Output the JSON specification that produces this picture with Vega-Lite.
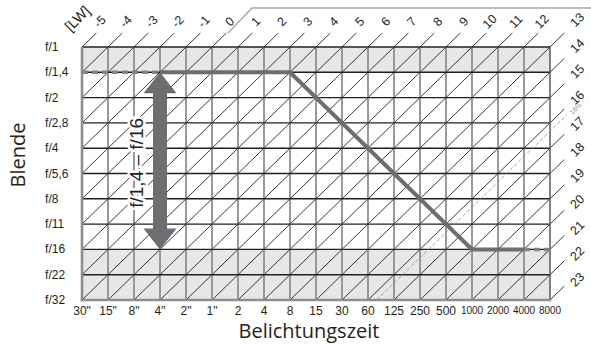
{
  "$schema": "https://vega.github.io/schema/vega-lite/v6.json",
  "width": 468,
  "height": 253,
  "autosize": {"type": "none"},
  "padding": {"left": 82, "top": 47, "right": 41, "bottom": 44},
  "background": "white",
  "config": {"view": {"stroke": null}},
  "layer": [
    {
      "data": {"values": [{"c0": 0, "c1": 18, "r0": 0, "r1": 1}, {"c0": 0, "c1": 18, "r0": 8, "r1": 10}]},
      "mark": {"type": "rect", "fill": "#e6e7e8"},
      "encoding": {
        "x": {"field": "c0", "type": "quantitative", "scale": {"domain": [0, 18], "nice": false, "zero": false}, "axis": null},
        "x2": {"field": "c1"},
        "y": {"field": "r0", "type": "quantitative", "scale": {"domain": [0, 10], "nice": false, "zero": false, "reverse": true}, "axis": null},
        "y2": {"field": "r1"}
      }
    },
    {
      "data": {"values": [
        {"c": 0, "r": 0, "c2": 0.55, "r2": -0.55},
        {"c": 0, "r": 1, "c2": 1.55, "r2": -0.55},
        {"c": 0, "r": 2, "c2": 2.55, "r2": -0.55},
        {"c": 0, "r": 3, "c2": 3.55, "r2": -0.55},
        {"c": 0, "r": 4, "c2": 4.55, "r2": -0.55},
        {"c": 0, "r": 5, "c2": 5.55, "r2": -0.55},
        {"c": 0, "r": 6, "c2": 6.55, "r2": -0.55},
        {"c": 0, "r": 7, "c2": 7.55, "r2": -0.55},
        {"c": 0, "r": 8, "c2": 8.55, "r2": -0.55},
        {"c": 0, "r": 9, "c2": 9.55, "r2": -0.55},
        {"c": 0, "r": 10, "c2": 10.55, "r2": -0.55},
        {"c": 1, "r": 10, "c2": 11.55, "r2": -0.55},
        {"c": 2, "r": 10, "c2": 12.55, "r2": -0.55},
        {"c": 3, "r": 10, "c2": 13.55, "r2": -0.55},
        {"c": 4, "r": 10, "c2": 14.55, "r2": -0.55},
        {"c": 5, "r": 10, "c2": 15.55, "r2": -0.55},
        {"c": 6, "r": 10, "c2": 16.55, "r2": -0.55},
        {"c": 7, "r": 10, "c2": 17.55, "r2": -0.55},
        {"c": 8, "r": 10, "c2": 18.55, "r2": -0.55},
        {"c": 9, "r": 10, "c2": 18.55, "r2": 0.45},
        {"c": 10, "r": 10, "c2": 18.55, "r2": 1.45},
        {"c": 11, "r": 10, "c2": 18.55, "r2": 2.45},
        {"c": 12, "r": 10, "c2": 18.55, "r2": 3.45},
        {"c": 13, "r": 10, "c2": 18.55, "r2": 4.45},
        {"c": 14, "r": 10, "c2": 18.55, "r2": 5.45},
        {"c": 15, "r": 10, "c2": 18.55, "r2": 6.45},
        {"c": 16, "r": 10, "c2": 18.55, "r2": 7.45},
        {"c": 17, "r": 10, "c2": 18.55, "r2": 8.45},
        {"c": 18, "r": 10, "c2": 18.55, "r2": 9.45}
      ]},
      "mark": {"type": "rule", "stroke": "#231f20", "strokeWidth": 0.9},
      "encoding": {
        "x": {"field": "c", "type": "quantitative", "scale": {"domain": [0, 18], "nice": false, "zero": false}, "axis": null},
        "x2": {"field": "c2"},
        "y": {"field": "r", "type": "quantitative", "scale": {"domain": [0, 10], "nice": false, "zero": false, "reverse": true}, "axis": null},
        "y2": {"field": "r2"}
      }
    },
    {
      "data": {"values": [{"c": 1},{"c": 2},{"c": 3},{"c": 4},{"c": 5},{"c": 6},{"c": 7},{"c": 8},{"c": 9},{"c": 10},{"c": 11},{"c": 12},{"c": 13},{"c": 14},{"c": 15},{"c": 16},{"c": 17}]},
      "mark": {"type": "rule", "stroke": "#8c8e90", "strokeWidth": 1.8},
      "encoding": {
        "x": {"field": "c", "type": "quantitative", "scale": {"domain": [0, 18], "nice": false, "zero": false}, "axis": null},
        "y": {"datum": 0, "type": "quantitative", "scale": {"domain": [0, 10], "nice": false, "zero": false, "reverse": true}, "axis": null},
        "y2": {"datum": 10}
      }
    },
    {
      "data": {"values": [{"r": 0},{"r": 1},{"r": 2},{"r": 3},{"r": 4},{"r": 5},{"r": 6},{"r": 7},{"r": 8},{"r": 9}]},
      "mark": {"type": "rule", "stroke": "#231f20", "strokeWidth": 1.4},
      "encoding": {
        "x": {"datum": 0, "type": "quantitative", "scale": {"domain": [0, 18], "nice": false, "zero": false}, "axis": null},
        "x2": {"datum": 18},
        "y": {"field": "r", "type": "quantitative", "scale": {"domain": [0, 10], "nice": false, "zero": false, "reverse": true}, "axis": null}
      }
    },
    {
      "data": {"values": [{"c": 18}]},
      "mark": {"type": "rule", "stroke": "#58595b", "strokeWidth": 1.5},
      "encoding": {
        "x": {"field": "c", "type": "quantitative", "scale": {"domain": [0, 18], "nice": false, "zero": false}, "axis": null},
        "y": {"datum": 0, "type": "quantitative", "scale": {"domain": [0, 10], "nice": false, "zero": false, "reverse": true}, "axis": null},
        "y2": {"datum": 10}
      }
    },
    {
      "data": {"values": [{"c": 0, "c2": 0, "r": 0, "r2": 10.05}, {"c": -0.05, "c2": 18.05, "r": 10, "r2": 10}]},
      "mark": {"type": "rule", "stroke": "#8c8e90", "strokeWidth": 2.6},
      "encoding": {
        "x": {"field": "c", "type": "quantitative", "scale": {"domain": [0, 18], "nice": false, "zero": false}, "axis": null},
        "x2": {"field": "c2"},
        "y": {"field": "r", "type": "quantitative", "scale": {"domain": [0, 10], "nice": false, "zero": false, "reverse": true}, "axis": null},
        "y2": {"field": "r2"}
      }
    },
    {
      "data": {"values": [{"o": 1, "c": 5.615, "r": -0.553}, {"o": 2, "c": 6.538, "r": -1.542}, {"o": 3, "c": 19.6, "r": -1.542}]},
      "mark": {"type": "line", "stroke": "#a7a9ac", "strokeWidth": 1.5},
      "encoding": {
        "x": {"field": "c", "type": "quantitative", "scale": {"domain": [0, 18], "nice": false, "zero": false}, "axis": null},
        "y": {"field": "r", "type": "quantitative", "scale": {"domain": [0, 10], "nice": false, "zero": false, "reverse": true}, "axis": null},
        "order": {"field": "o"}
      }
    },
    {
      "data": {"values": [{"c": 11.33, "r": 10, "c2": 18.65, "r2": 2.68}]},
      "mark": {"type": "rule", "stroke": "#939598", "strokeWidth": 0.8, "strokeDash": [4, 2]},
      "encoding": {
        "x": {"field": "c", "type": "quantitative", "scale": {"domain": [0, 18], "nice": false, "zero": false}, "axis": null},
        "x2": {"field": "c2"},
        "y": {"field": "r", "type": "quantitative", "scale": {"domain": [0, 10], "nice": false, "zero": false, "reverse": true}, "axis": null},
        "y2": {"field": "r2"}
      }
    },
    {
      "data": {"values": [{"c": 0, "c2": 3, "r": 1}, {"c": 17, "c2": 18, "r": 8}]},
      "mark": {"type": "rule", "stroke": "#808285", "strokeWidth": 3.5, "strokeDash": [6, 4]},
      "encoding": {
        "x": {"field": "c", "type": "quantitative", "scale": {"domain": [0, 18], "nice": false, "zero": false}, "axis": null},
        "x2": {"field": "c2"},
        "y": {"field": "r", "type": "quantitative", "scale": {"domain": [0, 10], "nice": false, "zero": false, "reverse": true}, "axis": null}
      }
    },
    {
      "data": {"values": [{"c": 3, "r": 1}, {"c": 8, "r": 1}, {"c": 15, "r": 8}, {"c": 17, "r": 8}]},
      "mark": {"type": "line", "stroke": "#6d6e71", "strokeWidth": 4, "strokeJoin": "miter"},
      "encoding": {
        "x": {"field": "c", "type": "quantitative", "scale": {"domain": [0, 18], "nice": false, "zero": false}, "axis": null},
        "y": {"field": "r", "type": "quantitative", "scale": {"domain": [0, 10], "nice": false, "zero": false, "reverse": true}, "axis": null}
      }
    },
    {
      "data": {"values": [{"c": 3, "r": 1.8, "r2": 7.2}]},
      "mark": {"type": "rule", "stroke": "#6d6e71", "strokeWidth": 14, "strokeCap": "butt"},
      "encoding": {
        "x": {"field": "c", "type": "quantitative", "scale": {"domain": [0, 18], "nice": false, "zero": false}, "axis": null},
        "y": {"field": "r", "type": "quantitative", "scale": {"domain": [0, 10], "nice": false, "zero": false, "reverse": true}, "axis": null},
        "y2": {"field": "r2"}
      }
    },
    {
      "data": {"values": [{"c": 3, "r": 1, "dir": "up"}, {"c": 3, "r": 8, "dir": "down"}]},
      "mark": {"type": "point", "filled": true, "size": 1089, "opacity": 1, "color": "#6d6e71", "strokeWidth": 0},
      "encoding": {
        "x": {"field": "c", "type": "quantitative", "scale": {"domain": [0, 18], "nice": false, "zero": false}, "axis": null},
        "y": {"field": "r", "type": "quantitative", "scale": {"domain": [0, 10], "nice": false, "zero": false, "reverse": true}, "axis": null},
        "shape": {"field": "dir", "type": "nominal", "scale": {"domain": ["up", "down"], "range": ["M0,0L1,1.27L-1,1.27Z", "M0,0L1,-1.27L-1,-1.27Z"]}, "legend": null}
      }
    },
    {
      "data": {"values": [{"c": 2.13, "r": 4.58, "t": "f/1,4 – f/16"}]},
      "mark": {"type": "text", "angle": 270, "font": "Liberation Sans", "fontSize": 19, "align": "center", "baseline": "middle", "stroke": "white", "strokeWidth": 5, "fill": "white"},
      "encoding": {
        "x": {"field": "c", "type": "quantitative", "scale": {"domain": [0, 18], "nice": false, "zero": false}, "axis": null},
        "y": {"field": "r", "type": "quantitative", "scale": {"domain": [0, 10], "nice": false, "zero": false, "reverse": true}, "axis": null},
        "text": {"field": "t"}
      }
    },
    {
      "data": {"values": [{"c": 2.13, "r": 4.58, "t": "f/1,4 – f/16"}]},
      "mark": {"type": "text", "angle": 270, "font": "Liberation Sans", "fontSize": 19, "align": "center", "baseline": "middle", "fill": "#231f20"},
      "encoding": {
        "x": {"field": "c", "type": "quantitative", "scale": {"domain": [0, 18], "nice": false, "zero": false}, "axis": null},
        "y": {"field": "r", "type": "quantitative", "scale": {"domain": [0, 10], "nice": false, "zero": false, "reverse": true}, "axis": null},
        "text": {"field": "t"}
      }
    },
    {
      "data": {"values": [
        {"t": "-5", "c": 0.69, "r": -1.0}, {"t": "-4", "c": 1.69, "r": -1.0}, {"t": "-3", "c": 2.69, "r": -1.0},
        {"t": "-2", "c": 3.69, "r": -1.0}, {"t": "-1", "c": 4.69, "r": -1.0}, {"t": "0", "c": 5.69, "r": -1.0},
        {"t": "1", "c": 6.69, "r": -1.0}, {"t": "2", "c": 7.69, "r": -1.0}, {"t": "3", "c": 8.69, "r": -1.0},
        {"t": "4", "c": 9.69, "r": -1.0}, {"t": "5", "c": 10.69, "r": -1.0}, {"t": "6", "c": 11.69, "r": -1.0},
        {"t": "7", "c": 12.69, "r": -1.0}, {"t": "8", "c": 13.69, "r": -1.0}, {"t": "9", "c": 14.69, "r": -1.0},
        {"t": "10", "c": 15.69, "r": -1.0}, {"t": "11", "c": 16.69, "r": -1.0}, {"t": "12", "c": 17.69, "r": -1.0},
        {"t": "13", "c": 19.05, "r": -1.07}, {"t": "14", "c": 19.05, "r": -0.04}, {"t": "15", "c": 19.05, "r": 0.98},
        {"t": "16", "c": 19.05, "r": 2.01}, {"t": "17", "c": 19.05, "r": 3.04}, {"t": "18", "c": 19.05, "r": 4.06},
        {"t": "19", "c": 19.05, "r": 5.09}, {"t": "20", "c": 19.05, "r": 6.12}, {"t": "21", "c": 19.05, "r": 7.15},
        {"t": "22", "c": 19.05, "r": 8.17}, {"t": "23", "c": 19.05, "r": 9.2}
      ]},
      "mark": {"type": "text", "angle": 315, "font": "Liberation Sans", "fontSize": 12.5, "align": "center", "baseline": "middle", "fill": "#231f20"},
      "encoding": {
        "x": {"field": "c", "type": "quantitative", "scale": {"domain": [0, 18], "nice": false, "zero": false}, "axis": null},
        "y": {"field": "r", "type": "quantitative", "scale": {"domain": [0, 10], "nice": false, "zero": false, "reverse": true}, "axis": null},
        "text": {"field": "t"}
      }
    },
    {
      "data": {"values": [{"t": "[LW]", "c": -0.15, "r": -1.1}]},
      "mark": {"type": "text", "angle": 315, "font": "Liberation Sans", "fontSize": 14.5, "align": "center", "baseline": "middle", "fill": "#231f20"},
      "encoding": {
        "x": {"field": "c", "type": "quantitative", "scale": {"domain": [0, 18], "nice": false, "zero": false}, "axis": null},
        "y": {"field": "r", "type": "quantitative", "scale": {"domain": [0, 10], "nice": false, "zero": false, "reverse": true}, "axis": null},
        "text": {"field": "t"}
      }
    },
    {
      "data": {"values": [{"t": "16⅓", "c": 19.0, "r": 2.45}]},
      "mark": {"type": "text", "angle": 315, "font": "Liberation Sans", "fontSize": 7, "align": "center", "baseline": "middle", "fill": "#939598"},
      "encoding": {
        "x": {"field": "c", "type": "quantitative", "scale": {"domain": [0, 18], "nice": false, "zero": false}, "axis": null},
        "y": {"field": "r", "type": "quantitative", "scale": {"domain": [0, 10], "nice": false, "zero": false, "reverse": true}, "axis": null},
        "text": {"field": "t"}
      }
    },
    {
      "data": {"values": [
        {"t": "f/1", "c": -1.42, "r": 0}, {"t": "f/1,4", "c": -1.42, "r": 1}, {"t": "f/2", "c": -1.42, "r": 2},
        {"t": "f/2,8", "c": -1.42, "r": 3}, {"t": "f/4", "c": -1.42, "r": 4}, {"t": "f/5,6", "c": -1.42, "r": 5},
        {"t": "f/8", "c": -1.42, "r": 6}, {"t": "f/11", "c": -1.42, "r": 7}, {"t": "f/16", "c": -1.42, "r": 8},
        {"t": "f/22", "c": -1.42, "r": 9}, {"t": "f/32", "c": -1.42, "r": 10}
      ]},
      "mark": {"type": "text", "font": "Liberation Sans", "fontSize": 12, "align": "left", "baseline": "middle", "fill": "#231f20"},
      "encoding": {
        "x": {"field": "c", "type": "quantitative", "scale": {"domain": [0, 18], "nice": false, "zero": false}, "axis": null},
        "y": {"field": "r", "type": "quantitative", "scale": {"domain": [0, 10], "nice": false, "zero": false, "reverse": true}, "axis": null},
        "text": {"field": "t"}
      }
    },
    {
      "data": {"values": [
        {"t": "30\"", "c": 0, "r": 10.44}, {"t": "15\"", "c": 1, "r": 10.44}, {"t": "8\"", "c": 2, "r": 10.44},
        {"t": "4\"", "c": 3, "r": 10.44}, {"t": "2\"", "c": 4, "r": 10.44}, {"t": "1\"", "c": 5, "r": 10.44},
        {"t": "2", "c": 6, "r": 10.44}, {"t": "4", "c": 7, "r": 10.44}, {"t": "8", "c": 8, "r": 10.44},
        {"t": "15", "c": 9, "r": 10.44}, {"t": "30", "c": 10, "r": 10.44}, {"t": "60", "c": 11, "r": 10.44},
        {"t": "125", "c": 12, "r": 10.44}, {"t": "250", "c": 13, "r": 10.44}, {"t": "500", "c": 14, "r": 10.44}
      ]},
      "mark": {"type": "text", "font": "Liberation Sans", "fontSize": 12, "align": "center", "baseline": "middle", "fill": "#231f20"},
      "encoding": {
        "x": {"field": "c", "type": "quantitative", "scale": {"domain": [0, 18], "nice": false, "zero": false}, "axis": null},
        "y": {"field": "r", "type": "quantitative", "scale": {"domain": [0, 10], "nice": false, "zero": false, "reverse": true}, "axis": null},
        "text": {"field": "t"}
      }
    },
    {
      "data": {"values": [
        {"t": "1000", "c": 15, "r": 10.44}, {"t": "2000", "c": 16, "r": 10.44},
        {"t": "4000", "c": 17, "r": 10.44}, {"t": "8000", "c": 18, "r": 10.44}
      ]},
      "mark": {"type": "text", "font": "Liberation Sans", "fontSize": 10, "align": "center", "baseline": "middle", "fill": "#231f20"},
      "encoding": {
        "x": {"field": "c", "type": "quantitative", "scale": {"domain": [0, 18], "nice": false, "zero": false}, "axis": null},
        "y": {"field": "r", "type": "quantitative", "scale": {"domain": [0, 10], "nice": false, "zero": false, "reverse": true}, "axis": null},
        "text": {"field": "t"}
      }
    },
    {
      "data": {"values": [{"t": "Belichtungszeit", "c": 8.73, "r": 11.5}]},
      "mark": {"type": "text", "font": "Open Sans", "fontSize": 20, "align": "center", "baseline": "alphabetic", "fill": "#231f20"},
      "encoding": {
        "x": {"field": "c", "type": "quantitative", "scale": {"domain": [0, 18], "nice": false, "zero": false}, "axis": null},
        "y": {"field": "r", "type": "quantitative", "scale": {"domain": [0, 10], "nice": false, "zero": false, "reverse": true}, "axis": null},
        "text": {"field": "t"}
      }
    },
    {
      "data": {"values": [{"t": "Blende", "c": -2.19, "r": 4.27}]},
      "mark": {"type": "text", "font": "Open Sans", "fontSize": 20, "angle": 270, "align": "center", "baseline": "alphabetic", "fill": "#231f20"},
      "encoding": {
        "x": {"field": "c", "type": "quantitative", "scale": {"domain": [0, 18], "nice": false, "zero": false}, "axis": null},
        "y": {"field": "r", "type": "quantitative", "scale": {"domain": [0, 10], "nice": false, "zero": false, "reverse": true}, "axis": null},
        "text": {"field": "t"}
      }
    }
  ]
}
